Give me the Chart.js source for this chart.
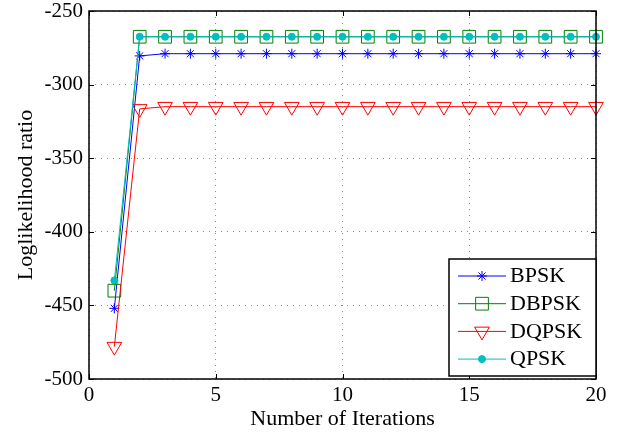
<!DOCTYPE html>
<html>
<head>
<meta charset="utf-8">
<title>Loglikelihood ratio vs iterations</title>
<script src="https://cdn.jsdelivr.net/npm/chart.js@4.4.0/dist/chart.umd.min.js"></script>
<style>
    body { margin: 0; background: #fff; }
    #wrap { width: 630px; height: 432px; }
</style>
</head>
<body>
<div id="wrap"><canvas id="llrChart" width="630" height="432"></canvas></div>
<script>
// iteration index (x axis)
const iterations = [1, 2, 3, 4, 5, 6, 7, 8, 9, 10, 11, 12, 13, 14, 15, 16, 17, 18, 19, 20];

// loglikelihood ratio per modulation
const bpsk  = [-452, -280.5, -279, -279, -279, -279, -279, -279, -279, -279, -279, -279, -279, -279, -279, -279, -279, -279, -279, -279];
const dbpsk = [-440, -267.5, -267.5, -267.5, -267.5, -267.5, -267.5, -267.5, -267.5, -267.5, -267.5, -267.5, -267.5, -267.5, -267.5, -267.5, -267.5, -267.5, -267.5, -267.5];
const dqpsk = [-478, -316.5, -315, -315, -315, -315, -315, -315, -315, -315, -315, -315, -315, -315, -315, -315, -315, -315, -315, -315];
const qpsk  = [-433, -267.5, -267.5, -267.5, -267.5, -267.5, -267.5, -267.5, -267.5, -267.5, -267.5, -267.5, -267.5, -267.5, -267.5, -267.5, -267.5, -267.5, -267.5, -267.5];

const seriesNames = ['BPSK', 'DBPSK', 'DQPSK', 'QPSK'];
const xTickLabels = [0, 5, 10, 15, 20];
const yTickLabels = [-500, -450, -400, -350, -300, -250];

const serifFamily = '"Liberation Serif", "Times New Roman", serif';
const tickFont = { family: serifFamily, size: 21, lineHeight: 1.2 };
const titleFont = { family: serifFamily, size: 22, lineHeight: 1.2 };

// marker styles roughly like matlab's '*', 's', 'v', '.'
const styles = [
    { color: '#0000ff', marker: 'star', radius: 5, rotation: 0, fill: 'rgba(0,0,0,0)', order: 3 },
    { color: '#008000', marker: 'rect', radius: 9, rotation: 0, fill: 'rgba(0,0,0,0)', order: 2 },
    { color: '#ff0000', marker: 'triangle', radius: 8.5, rotation: 180, fill: 'rgba(0,0,0,0)', order: 1 },
    { color: '#00bfbf', marker: 'circle', radius: 3.5, rotation: 0, fill: '#00bfbf', order: 0 }
];
const seriesValues = [bpsk, dbpsk, dqpsk, qpsk];

const datasets = seriesNames.map(function (name, k) {
    const st = styles[k];
    return {
        label: name,
        data: iterations.map((x, i) => ({ x: x, y: seriesValues[k][i] })),
        borderColor: st.color,
        backgroundColor: st.color,
        borderWidth: 1,
        pointStyle: st.marker,
        pointRadius: st.radius,
        pointRotation: st.rotation,
        pointBorderColor: st.color,
        pointBackgroundColor: st.fill,
        pointBorderWidth: 1,
        tension: 0,
        order: st.order,
        clip: false
    };
});

// box around the plot with inward tick marks on all four sides
const frameTicks = {
    id: 'frameTicks',
    afterDatasetsDraw(chart) {
        const ctx = chart.ctx;
        const a = chart.chartArea;
        const xs = chart.scales.x, ys = chart.scales.y;
        const len = 5;
        ctx.save();
        ctx.strokeStyle = '#000';
        ctx.lineWidth = 1;
        ctx.beginPath();
        xTickLabels.forEach(v => {
            const px = Math.round(xs.getPixelForValue(v)) + 0.5;
            ctx.moveTo(px, a.bottom); ctx.lineTo(px, a.bottom - len);
            ctx.moveTo(px, a.top); ctx.lineTo(px, a.top + len);
        });
        yTickLabels.forEach(v => {
            const py = Math.round(ys.getPixelForValue(v)) + 0.5;
            ctx.moveTo(a.left, py); ctx.lineTo(a.left + len, py);
            ctx.moveTo(a.right, py); ctx.lineTo(a.right - len, py);
        });
        ctx.stroke();
        ctx.lineWidth = 1.5;
        ctx.strokeRect(a.left, a.top, a.right - a.left, a.bottom - a.top);
        ctx.restore();
    }
};

// legend box in the lower right corner, line + marker samples
const boxLegend = {
    id: 'boxLegend',
    afterDraw(chart) {
        const ctx = chart.ctx;
        const a = chart.chartArea;
        const w = 147, h = 117;
        const left = a.right - w, top = a.bottom - 3 - h;
        ctx.save();
        ctx.fillStyle = '#fff';
        ctx.fillRect(left, top, w, h);
        ctx.strokeStyle = '#000';
        ctx.lineWidth = 1.5;
        ctx.strokeRect(left, top, w, h);
        ctx.font = '22px ' + serifFamily;
        ctx.textBaseline = 'middle';
        ctx.textAlign = 'left';
        seriesNames.forEach(function (name, k) {
            const st = styles[k];
            const y = top + 17 + k * 27.7;
            ctx.strokeStyle = st.color;
            ctx.lineWidth = 1;
            ctx.beginPath();
            ctx.moveTo(left + 9, y);
            ctx.lineTo(left + 57, y);
            ctx.stroke();
            ctx.fillStyle = st.fill;
            Chart.helpers.drawPoint(ctx, { pointStyle: st.marker, radius: st.radius, rotation: st.rotation, borderWidth: 1 }, left + 33, y);
            ctx.fillStyle = '#000';
            ctx.fillText(name, left + 61, y + 0.5);
        });
        ctx.restore();
    }
};

const config = {
    type: 'line',
    data: { datasets: datasets },
    options: {
        responsive: false,
        animation: false,
        layout: { padding: { top: 11, right: 34, left: 0, bottom: 0 } },
        plugins: {
            legend: { display: false },
            tooltip: { enabled: false }
        },
        scales: {
            x: {
                type: 'linear',
                min: 0,
                max: 20,
                ticks: { stepSize: 5, padding: 4, color: '#000', font: tickFont, maxRotation: 0 },
                grid: { color: '#8a8a8a', lineWidth: 1, drawTicks: false },
                border: { display: false, dash: [1, 5] },
                title: { display: true, text: 'Number of Iterations', color: '#000', font: titleFont, padding: { top: 0, bottom: 0 } },
                afterFit(scale) {
                    scale.height = 53;
                    scale.paddingLeft = 0;
                    scale.paddingRight = 0;
                }
            },
            y: {
                min: -500,
                max: -250,
                ticks: { stepSize: 50, padding: 6, color: '#000', font: tickFont },
                grid: { color: '#8a8a8a', lineWidth: 1, drawTicks: false },
                border: { display: false, dash: [1, 5] },
                title: { display: true, text: 'Loglikelihood ratio', color: '#000', font: titleFont, padding: { top: 13, bottom: 0 } },
                afterFit(scale) {
                    scale.width = 89;
                    scale.paddingTop = 0;
                    scale.paddingBottom = 0;
                }
            }
        }
    },
    plugins: [frameTicks, boxLegend]
};

const ctx = document.getElementById('llrChart').getContext('2d');
const llrChart = new Chart(ctx, config);
</script>
</body>
</html>
